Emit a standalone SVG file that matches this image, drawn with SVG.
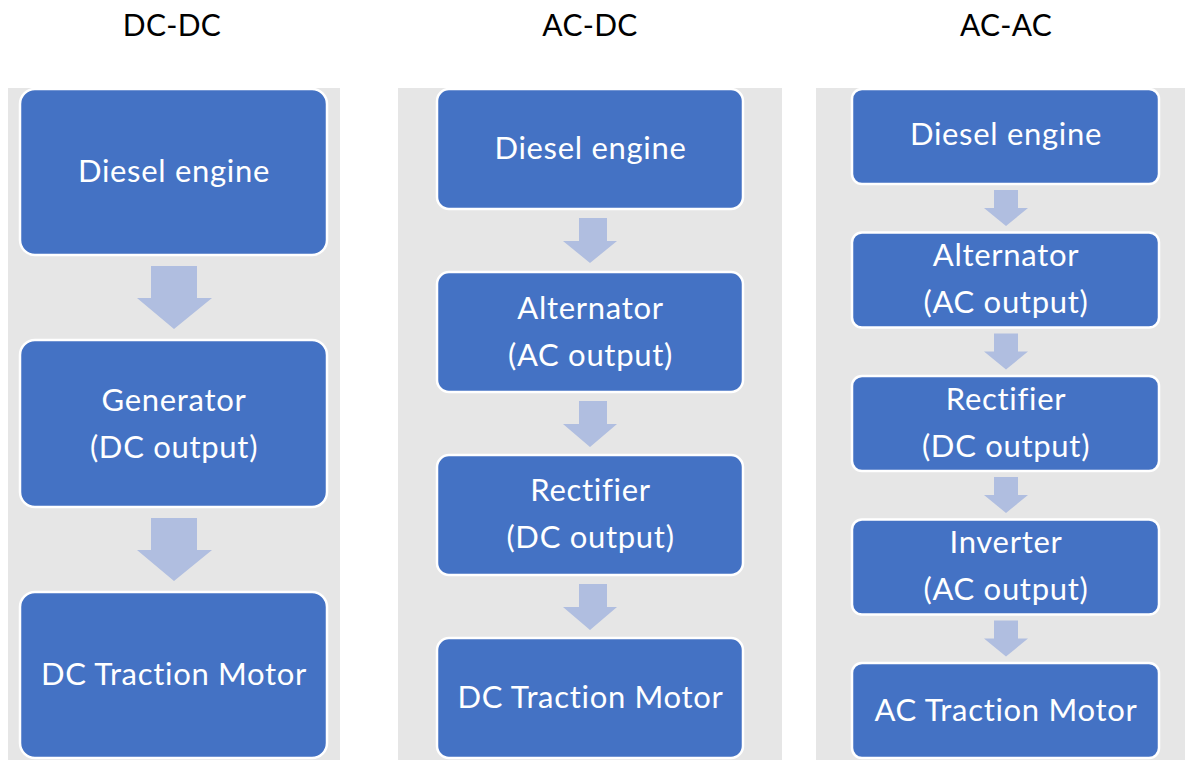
<svg xmlns="http://www.w3.org/2000/svg" width="1185" height="760" viewBox="0 0 1185 760">
<style>
.bg{fill:#E6E6E6}
.box{fill:#4472C4;stroke:#FFFFFF;stroke-width:2.5}
.arr{fill:#B0BEE0}
.t{font-family:Lato,"Noto Sans",sans-serif;font-size:31px;font-weight:400;letter-spacing:0.7px;fill:#FFFFFF;text-anchor:middle}
.h{font-family:Lato,"Noto Sans",sans-serif;font-size:30px;font-weight:400;letter-spacing:0.3px;fill:#000000;text-anchor:middle}
</style>
<rect width="1185" height="760" fill="#FFFFFF"/>
<g id="backgrounds">
<rect class="bg" x="8" y="88" width="332" height="672"/>
<rect class="bg" x="398" y="88" width="384" height="672"/>
<rect class="bg" x="816" y="88" width="369" height="672"/>
</g>
<g id="headings">
<text class="h" x="172" y="36">DC-DC</text>
<text class="h" x="590" y="36">AC-DC</text>
<text class="h" x="1006" y="36">AC-AC</text>
</g>
<g id="connectors">
<polygon class="arr" points="151,266 197,266 197,298 212,298 174,329 137,298 151,298"/>
<polygon class="arr" points="151,518 197,518 197,550 212,550 174,581 137,550 151,550"/>
<polygon class="arr" points="579,218 607,218 607,241 617,241 590,263 563,241 579,241"/>
<polygon class="arr" points="579,401 607,401 607,424 617,424 590,447 563,424 579,424"/>
<polygon class="arr" points="579,584 607,584 607,607 617,607 590,630 563,607 579,607"/>
<polygon class="arr" points="994,190 1018,190 1018,208 1028,208 1006,226 984,208 994,208"/>
<polygon class="arr" points="994,333.5 1018,333.5 1018,351.5 1028,351.5 1006,369.5 984,351.5 994,351.5"/>
<polygon class="arr" points="994,477 1018,477 1018,495 1028,495 1006,513 984,495 994,495"/>
<polygon class="arr" points="994,620.5 1018,620.5 1018,638.5 1028,638.5 1006,656.5 984,638.5 994,638.5"/>
</g>
<g id="dcdc-diesel">
<rect class="box" x="20" y="89" width="307" height="166" rx="15"/>
<text class="t" x="174" y="182">Diesel engine</text>
</g>
<g id="dcdc-generator">
<rect class="box" x="20" y="340" width="307" height="167" rx="15"/>
<text class="t" x="174" y="410.5">Generator</text>
<text class="t" x="174" y="457.5">(DC output)</text>
</g>
<g id="dcdc-motor">
<rect class="box" x="20" y="592" width="307" height="166" rx="15"/>
<text class="t" x="174" y="685">DC Traction Motor</text>
</g>
<g id="acdc-diesel">
<rect class="box" x="437" y="89" width="306" height="120" rx="12"/>
<text class="t" x="590.5" y="159">Diesel engine</text>
</g>
<g id="acdc-alternator">
<rect class="box" x="437" y="272" width="306" height="120" rx="12"/>
<text class="t" x="590.5" y="318.5">Alternator</text>
<text class="t" x="590.5" y="365.5">(AC output)</text>
</g>
<g id="acdc-rectifier">
<rect class="box" x="437" y="455" width="306" height="120" rx="12"/>
<text class="t" x="590.5" y="501">Rectifier</text>
<text class="t" x="590.5" y="548">(DC output)</text>
</g>
<g id="acdc-motor">
<rect class="box" x="437" y="638" width="306" height="120" rx="12"/>
<text class="t" x="590.5" y="708">DC Traction Motor</text>
</g>
<g id="acac-diesel">
<rect class="box" x="852" y="89" width="307" height="95" rx="10"/>
<text class="t" x="1006" y="145">Diesel engine</text>
</g>
<g id="acac-alternator">
<rect class="box" x="852" y="232.5" width="307" height="95" rx="10"/>
<text class="t" x="1006" y="266">Alternator</text>
<text class="t" x="1006" y="313">(AC output)</text>
</g>
<g id="acac-rectifier">
<rect class="box" x="852" y="376" width="307" height="95" rx="10"/>
<text class="t" x="1006" y="409.5">Rectifier</text>
<text class="t" x="1006" y="456.5">(DC output)</text>
</g>
<g id="acac-inverter">
<rect class="box" x="852" y="519.5" width="307" height="95" rx="10"/>
<text class="t" x="1006" y="553">Inverter</text>
<text class="t" x="1006" y="600">(AC output)</text>
</g>
<g id="acac-motor">
<rect class="box" x="852" y="663" width="307" height="95" rx="10"/>
<text class="t" x="1006" y="721">AC Traction Motor</text>
</g>
</svg>
